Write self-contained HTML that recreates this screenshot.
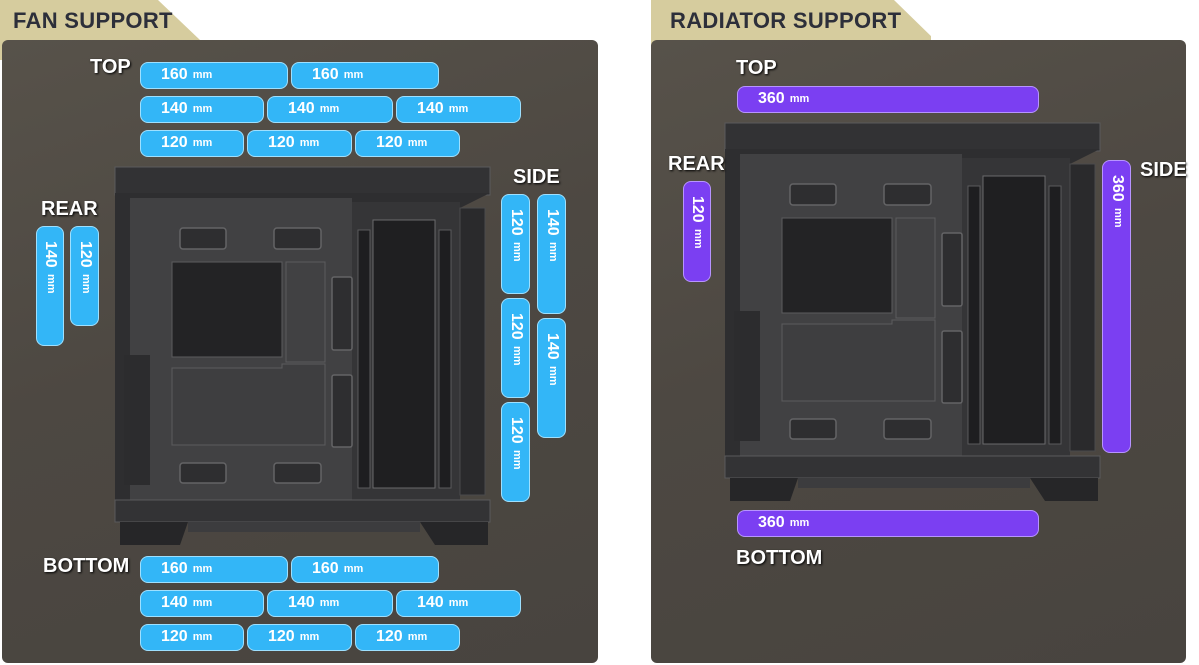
<!DOCTYPE html>
<html><head><meta charset="utf-8"><style>
body{margin:0;width:1199px;height:665px;background:#fff;position:relative;overflow:hidden;font-family:"Liberation Sans",Arial,sans-serif}
.tab{position:absolute;background:#d6cc9e}
.panel{position:absolute;background:linear-gradient(160deg,#57524a 0%,#4d4842 45%,#48443f 100%);border-radius:6px}
.ttl{position:absolute;font-weight:bold;font-size:22px;color:#2d2f3a;letter-spacing:0.3px}
.lbl{position:absolute;font-weight:bold;font-size:20px;color:#fff;text-shadow:1px 1px 2px #000}
.p{position:absolute;box-sizing:border-box;border-radius:8px;border:1.5px solid #9ee0ff;background:#33b6f7;color:#fff;font-weight:bold;font-size:16px;line-height:23px;padding-left:20px;white-space:nowrap}
.p small{font-size:11px;margin-left:5px;vertical-align:1px}
.v{writing-mode:vertical-rl;padding-left:0;padding-top:14px;line-height:25px;font-size:16px}
.v small{margin-left:0;margin-top:6px;display:inline-block}
.pu{background:#7b3ff2;border-color:#b794ff}
</style></head><body>

<div class="tab" style="left:0;top:0;width:200px;height:60px;clip-path:polygon(0 0,158px 0,200px 40px,200px 60px,0 60px)"></div>
<div class="panel" style="left:2px;top:40px;width:596px;height:623px"></div>
<div class="ttl" style="left:13px;top:8px">FAN SUPPORT</div>

<div class="tab" style="left:651px;top:0;width:280px;height:60px;clip-path:polygon(0 0,243px 0,284px 40px,284px 60px,0 60px)"></div>
<div class="panel" style="left:651px;top:40px;width:535px;height:623px"></div>
<div class="ttl" style="left:670px;top:8px">RADIATOR SUPPORT</div>

<svg width="1199" height="665" style="position:absolute;left:0;top:0">
<defs>
<g id="case">
<rect x="5" y="7" width="375" height="28" fill="#323234" stroke="#5a5a5c" stroke-width="1"/>
<path d="M5 33 H380 L350 48 V340 H5 Z" fill="#2e2e30"/>
<rect x="20" y="38" width="222" height="302" fill="#414143"/>
<rect x="242" y="42" width="108" height="298" fill="#353537"/>
<rect x="350" y="48" width="25" height="287" fill="#2a2a2c" stroke="#4a4a4c"/>
<rect x="14" y="195" width="26" height="130" fill="#2c2c2e"/>
<rect x="62" y="102" width="110" height="95" fill="#232325" stroke="#5c5c5e"/>
<path d="M62 208 H172 V204 H215 V285 H62 Z" fill="#3e3e40" stroke="#5c5c5e"/>
<rect x="176" y="102" width="39" height="100" fill="#414143" stroke="#5c5c5e"/>
<g fill="#2e2e30" stroke="#646466" stroke-width="1.5">
<rect x="70" y="68" width="46" height="21" rx="3"/><rect x="164" y="68" width="47" height="21" rx="3"/>
<rect x="70" y="303" width="46" height="20" rx="3"/><rect x="164" y="303" width="47" height="20" rx="3"/>
<rect x="222" y="117" width="20" height="73" rx="2"/><rect x="222" y="215" width="20" height="72" rx="2"/>
</g>
<rect x="263" y="60" width="62" height="268" fill="#1f1f21" stroke="#6a6a6c"/>
<rect x="248" y="70" width="12" height="258" fill="#1e1e20" stroke="#5a5a5c"/>
<rect x="329" y="70" width="12" height="258" fill="#1e1e20" stroke="#5a5a5c"/>
<rect x="5" y="340" width="375" height="22" fill="#333335" stroke="#5a5a5c"/>
<path d="M10 362 H78 L70 385 H10 Z" fill="#262628"/>
<path d="M310 362 H378 V385 H325 Z" fill="#262628"/>
<rect x="78" y="362" width="232" height="10" fill="#3c3c3e"/>
</g>
</defs>
<use href="#case" x="110" y="160"/>
<use href="#case" x="720" y="116"/>
</svg>

<div class="lbl" style="left:90px;top:56px">TOP</div>
<div class="p" style="left:140px;top:62px;width:148px;height:27px">160<small>mm</small></div>
<div class="p" style="left:291px;top:62px;width:148px;height:27px">160<small>mm</small></div>
<div class="p" style="left:140px;top:96px;width:124px;height:27px">140<small>mm</small></div>
<div class="p" style="left:267px;top:96px;width:126px;height:27px">140<small>mm</small></div>
<div class="p" style="left:396px;top:96px;width:125px;height:27px">140<small>mm</small></div>
<div class="p" style="left:140px;top:130px;width:104px;height:27px">120<small>mm</small></div>
<div class="p" style="left:247px;top:130px;width:105px;height:27px">120<small>mm</small></div>
<div class="p" style="left:355px;top:130px;width:105px;height:27px">120<small>mm</small></div>

<div class="lbl" style="left:43px;top:555px">BOTTOM</div>
<div class="p" style="left:140px;top:556px;width:148px;height:27px">160<small>mm</small></div>
<div class="p" style="left:291px;top:556px;width:148px;height:27px">160<small>mm</small></div>
<div class="p" style="left:140px;top:590px;width:124px;height:27px">140<small>mm</small></div>
<div class="p" style="left:267px;top:590px;width:126px;height:27px">140<small>mm</small></div>
<div class="p" style="left:396px;top:590px;width:125px;height:27px">140<small>mm</small></div>
<div class="p" style="left:140px;top:624px;width:104px;height:27px">120<small>mm</small></div>
<div class="p" style="left:247px;top:624px;width:105px;height:27px">120<small>mm</small></div>
<div class="p" style="left:355px;top:624px;width:105px;height:27px">120<small>mm</small></div>

<div class="lbl" style="left:41px;top:198px">REAR</div>
<div class="p v" style="left:36px;top:226px;width:28px;height:120px">140<small>mm</small></div>
<div class="p v" style="left:70px;top:226px;width:29px;height:100px">120<small>mm</small></div>

<div class="lbl" style="left:513px;top:166px">SIDE</div>
<div class="p v" style="left:501px;top:194px;width:29px;height:100px">120<small>mm</small></div>
<div class="p v" style="left:501px;top:298px;width:29px;height:100px">120<small>mm</small></div>
<div class="p v" style="left:501px;top:402px;width:29px;height:100px">120<small>mm</small></div>
<div class="p v" style="left:537px;top:194px;width:29px;height:120px">140<small>mm</small></div>
<div class="p v" style="left:537px;top:318px;width:29px;height:120px">140<small>mm</small></div>

<div class="lbl" style="left:736px;top:57px">TOP</div>
<div class="p pu" style="left:737px;top:86px;width:302px;height:27px">360<small>mm</small></div>
<div class="lbl" style="left:668px;top:153px">REAR</div>
<div class="p pu v" style="left:683px;top:181px;width:28px;height:101px">120<small>mm</small></div>
<div class="lbl" style="left:1140px;top:159px">SIDE</div>
<div class="p pu v" style="left:1102px;top:160px;width:29px;height:293px">360<small>mm</small></div>
<div class="lbl" style="left:736px;top:547px">BOTTOM</div>
<div class="p pu" style="left:737px;top:510px;width:302px;height:27px">360<small>mm</small></div>
</body></html>
